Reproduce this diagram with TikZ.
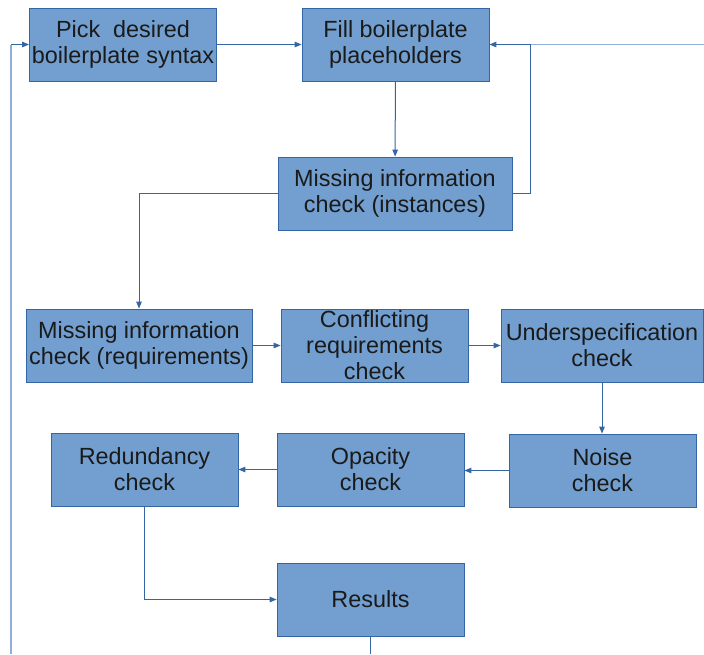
\documentclass[tikz,border=0pt]{standalone}
\usepackage{fontspec}
\setmainfont{Liberation Sans}
\usetikzlibrary{arrows.meta}
\definecolor{boxfill}{HTML}{729FCF}
\definecolor{boxline}{HTML}{3465A4}
\definecolor{txt}{HTML}{1A1A1A}
\definecolor{lightline}{HTML}{8FAFD8}
\tikzset{
  box/.style={draw=boxline, fill=boxfill, line width=0.8pt, align=center, inner sep=0pt,
    minimum width=187pt, minimum height=73pt, text=txt,
    font=\fontsize{23.4pt}{26pt}\selectfont},
  conn/.style={draw=boxline, line width=1pt, -{Triangle[length=7pt,width=5.5pt]}},
  plain/.style={draw=boxline, line width=1pt},
  light/.style={draw=lightline, line width=1.2pt}
}
\begin{document}
\begin{tikzpicture}[x=1pt,y=-1pt]
\useasboundingbox (0,0) rectangle (704,654);
\node[box] (pick) at (123,44.5) {Pick\ \ desired\\boilerplate syntax};
\node[box] (fill) at (395.5,44.5) {Fill boilerplate\\placeholders};
\node[box, minimum width=234pt] (inst) at (395,193.5) {Missing information\\check (instances)};
\node[box, minimum width=226pt] (req) at (139,345.5) {Missing information\\check (requirements)};
\node[box] (conf) at (374.5,345.5) {Conflicting\\requirements\\check};
\node[box, minimum width=202pt] (under) at (602,345.5) {Underspecification\\check};
\node[box] (noise) at (602.5,470.5) {Noise\\check};
\node[box] (opac) at (370.5,469.5) {Opacity\\check};
\node[box] (red) at (144.5,469.5) {Redundancy\\check};
\node[box] (res) at (370.5,599.5) {Results};
\coordinate (rightin) at (704,44.5);
\coordinate (loopx) at (530,44.5);
\coordinate (resout) at (370.5,654);
\coordinate (leftbot) at (11,654);

\draw[conn] (pick) -- (fill);
\draw[conn] (fill) -- (inst);
\draw[light] (rightin) -- (loopx);
\draw[conn] (inst.east) -| (loopx) -- (fill.east);
\draw[conn] (inst.west) -| (req.north);
\draw[conn] (req) -- (conf);
\draw[conn] (conf) -- (under);
\draw[conn] (under) -- (under |- noise.north);
\draw[conn] (noise.west) -- (noise.west -| opac.east);
\draw[conn] (opac) -- (red);
\draw[conn] (red.south) |- (res.west);
\draw[plain] (res.south) -- (resout);
\draw[light] (leftbot) -- (11,44.5);
\draw[conn] (11,44.5) -- (pick.west);
\end{tikzpicture}
\end{document}
